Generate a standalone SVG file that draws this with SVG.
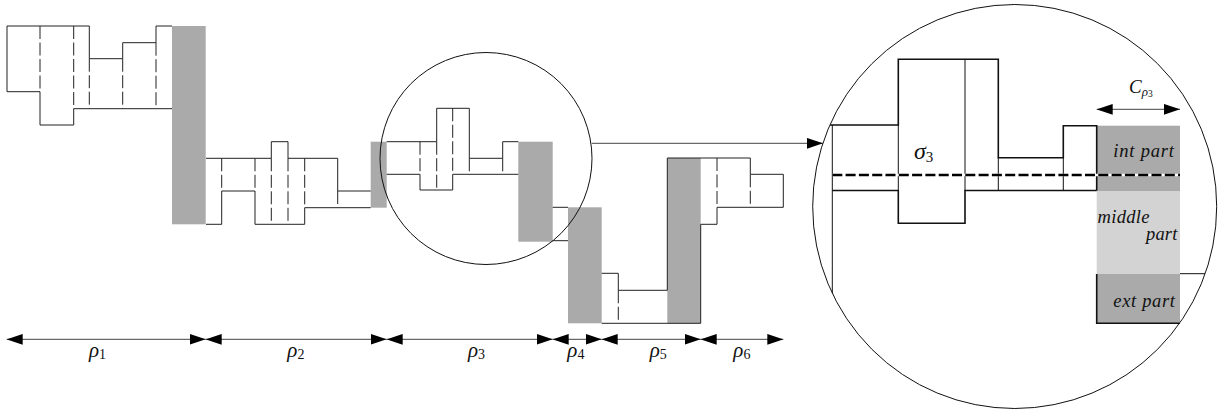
<svg xmlns="http://www.w3.org/2000/svg" width="1218" height="410" viewBox="0 0 1218 410">
<style>
.g{fill:#aaaaaa;stroke:none}
.lg{fill:#d3d3d3;stroke:none}
.o{fill:none;stroke:#222;stroke-width:1}
.d{fill:none;stroke:#222;stroke-width:1;stroke-dasharray:13,3.5}
.O{fill:none;stroke:#111;stroke-width:1.6}
.t{fill:none;stroke:#111;stroke-width:1}
.c{fill:none;stroke:#111;stroke-width:1}
.m{font-family:"Liberation Serif","DejaVu Serif",serif;font-style:italic;fill:#111}
.n{font-family:"Liberation Serif","DejaVu Serif",serif;font-style:normal;fill:#111}
.ar{fill:none;stroke:#444;stroke-width:1}
</style>
<defs>
<marker id="ah" markerUnits="userSpaceOnUse" markerWidth="16" markerHeight="11" viewBox="0 0 15 10" refX="15" refY="5" orient="auto-start-reverse"><path d="M0,0 L15,5 L0,10 z" fill="#000"/></marker>
</defs>
<rect width="1218" height="410" fill="#fff"/>

<g id="rho1-blocks">
<rect class="g" x="172" y="26" width="33.7" height="198.3"/>
<path class="o" d="M7,91.7 V26 H89.3 V58.7 H122.7 V42.7 H156 V26 H172"/>
<path class="o" d="M7,91.7 H40 V125 H73.7 V108.7 H172"/>
<path class="d" d="M40,26 V91.7 M73.7,26 V108.7 M89.3,58.7 V108.7 M122.7,58.7 V108.7 M156,42.7 V108.7"/>
</g>

<g id="rho2-blocks">
<rect class="g" x="370.7" y="141.7" width="16" height="66"/>
<path class="o" d="M206,158.3 H271.3 V141.7 H288 V158.3 H337.7 V191 H370.7"/>
<path class="o" d="M206,224.3 H221.7 V191 H255 V224.3 H304.7 V207.7 H370.7"/>
<path class="d" d="M221.7,158.3 V191 M255,158.3 V191 M271.3,158.3 V224.3 M288,158.3 V224.3 M304.7,158.3 V207.7 M337.7,191 V207.7"/>
</g>

<g id="rho3-blocks">
<rect class="g" x="518.3" y="141.7" width="34.4" height="100"/>
<path class="o" d="M386.7,141.7 H436.7 V108.3 H469.3 V158.3 H502.7 V141.7 H518.3"/>
<path class="o" d="M386.7,174.3 H420 V190 H452.7 V174.3 H518.3"/>
<path class="d" d="M420,141.7 V174.3 M436.7,141.7 V190 M452.7,108.3 V174.3 M469.3,158.3 V174.3 M502.7,158.3 V174.3"/>
</g>

<g id="rho4-blocks">
<rect class="g" x="568" y="207.3" width="33.7" height="116"/>
<path class="o" d="M552.7,207.3 H568 M552.7,240.7 H568"/>
</g>

<g id="rho5-blocks">
<rect class="g" x="667.3" y="158" width="33.4" height="165.3"/>
<path class="o" d="M601.7,273.3 H618.3 V290.3 H667.3 M601.7,323.3 H700.7 M667.3,290.3 V158 H750.3 M700.7,224.3 V323.3"/>
<path class="d" d="M618.3,290.3 V323.3"/>
</g>

<g id="rho6-blocks">
<path class="o" d="M700.7,224.3 H717 V207.3 H783.3 V174.3 H750.3 V158"/>
<path class="d" d="M717,158 V207.3 M750.3,174.3 V207.3"/>
</g>

<g id="zoom-circle">
<circle class="c" cx="486" cy="158.5" r="106"/>
</g>

<g id="magnified-view">
<circle class="c" cx="1014.7" cy="206.5" r="202"/>
<rect class="g" x="1096.7" y="125.7" width="83.3" height="65.3"/>
<rect class="lg" x="1096.7" y="191" width="83.3" height="83"/>
<rect class="g" x="1096.7" y="274" width="83.3" height="49.3"/>
<path class="O" d="M830,125 H898.3 V59.3 H998.3 V157.7 H1063.3 V125.7 H1096.7 V190.5"/>
<path class="O" d="M832.3,190.5 H898.3 V223.3 H965 V190.5 H1096.7"/>
<path class="t" d="M832.3,125 V293.3"/>
<path class="t" d="M898.3,125 V190.5 M965,59.3 V190.5 M998.3,157.7 V190.5 M1063.3,157.7 V190.5"/>
<path class="O" d="M1096.7,274 V323.3 H1180"/>
<path class="t" d="M1180,273.7 H1205"/>
<path d="M832.3,175 H1180" fill="none" stroke="#fff" stroke-width="2.6"/>
<path d="M832.3,175 H1180" fill="none" stroke="#000" stroke-width="2.6" stroke-dasharray="10,3.3"/>
<text class="m" x="914" y="159.3" font-size="24">σ<tspan class="n" font-size="15" dy="2.4">3</tspan></text>
<text class="m" x="1113.3" y="157.3" font-size="18.5" textLength="60.7" lengthAdjust="spacing">int part</text>
<text class="m" x="1097.5" y="223.3" font-size="18.5" textLength="52" lengthAdjust="spacing">middle</text>
<text class="m" x="1146" y="240" font-size="18.5" textLength="31.3" lengthAdjust="spacing">part</text>
<text class="m" x="1113.3" y="306.7" font-size="18.5" textLength="61.7" lengthAdjust="spacing">ext part</text>
<text class="m" x="1129" y="92.7" font-size="19">C<tspan font-size="13" dy="3">ρ</tspan><tspan class="n" font-size="9.5" dy="1.5">3</tspan></text>
</g>

<g id="connectors">
<path class="ar" d="M591.7,143.3 H823" stroke="#111" marker-end="url(#ah)"/>
<path class="ar" d="M1096.7,109.3 H1180" marker-start="url(#ah)" marker-end="url(#ah)"/>
<path class="ar" d="M6.7,339.3 H205.7" marker-start="url(#ah)" marker-end="url(#ah)"/>
<path class="ar" d="M205.7,339.3 H386.7" marker-start="url(#ah)" marker-end="url(#ah)"/>
<path class="ar" d="M386.7,339.3 H552.7" marker-start="url(#ah)" marker-end="url(#ah)"/>
<path class="ar" d="M552.7,339.3 H601.7" marker-start="url(#ah)" marker-end="url(#ah)"/>
<path class="ar" d="M601.7,339.3 H700.7" marker-start="url(#ah)" marker-end="url(#ah)"/>
<path class="ar" d="M700.7,339.3 H783.3" marker-start="url(#ah)" marker-end="url(#ah)"/>
</g>

<g id="labels">
<text class="m" x="89" y="357" font-size="21">ρ<tspan class="n" font-size="14" dy="1.5">1</tspan></text>
<text class="m" x="287.3" y="357" font-size="21">ρ<tspan class="n" font-size="14" dy="1.5">2</tspan></text>
<text class="m" x="468" y="357" font-size="21">ρ<tspan class="n" font-size="14" dy="1.5">3</tspan></text>
<text class="m" x="567.3" y="357" font-size="21">ρ<tspan class="n" font-size="14" dy="1.5">4</tspan></text>
<text class="m" x="649.7" y="357" font-size="21">ρ<tspan class="n" font-size="14" dy="1.5">5</tspan></text>
<text class="m" x="733.3" y="357" font-size="21">ρ<tspan class="n" font-size="14" dy="1.5">6</tspan></text>
</g>
</svg>
